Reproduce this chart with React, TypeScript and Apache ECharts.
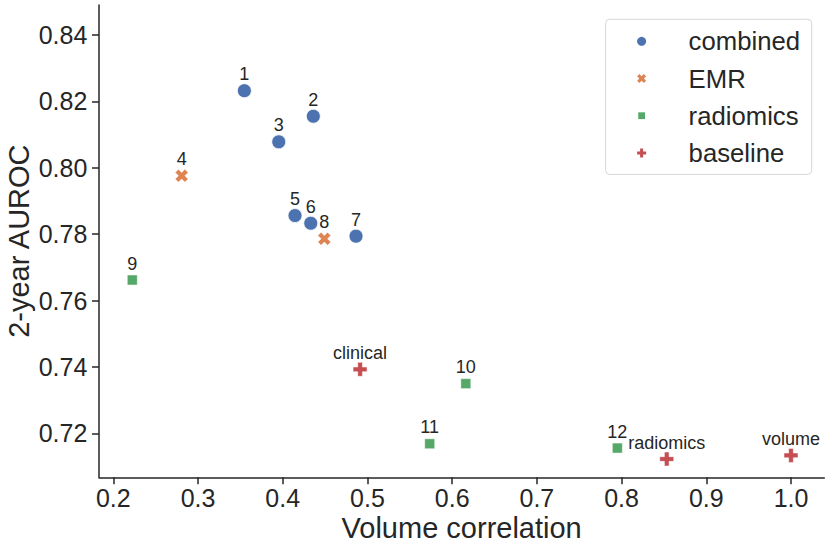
import React, { useEffect, useRef } from "react";
import * as echarts from "echarts";

const combinedX = [0.3547, 0.4361, 0.3953, 0.4145, 0.4331, 0.4865];
const combinedY = [0.8232, 0.8155, 0.8078, 0.7856, 0.7833, 0.7794];
const combinedLabels = ["1", "2", "3", "5", "6", "7"];

const emrX = [0.2807, 0.4491];
const emrY = [0.7976, 0.7786];
const emrLabels = ["4", "8"];

const radiomicsX = [0.2224, 0.6161, 0.5735, 0.795];
const radiomicsY = [0.7662, 0.735, 0.7169, 0.7156];
const radiomicsLabels = ["9", "10", "11", "12"];

const baselineX = [0.4913, 0.8533, 1.0];
const baselineY = [0.7393, 0.7123, 0.7134];
const baselineLabels = ["clinical", "radiomics", "volume"];

const xTicks = [0.2, 0.3, 0.4, 0.5, 0.6, 0.7, 0.8, 0.9, 1.0];
const yTicks = [0.72, 0.74, 0.76, 0.78, 0.8, 0.82, 0.84];

const FONT = "'Liberation Sans', Arial, Helvetica, sans-serif";
const INK = "#262626";

const X_PATH =
  "path://M-1,-2L0,-1L1,-2L2,-1L1,0L2,1L1,2L0,1L-1,2L-2,1L-1,0L-2,-1Z";
const P_PATH =
  "path://M-1,-3L1,-3L1,-1L3,-1L3,1L1,1L1,3L-1,3L-1,1L-3,1L-3,-1L-1,-1Z";
const SQ_LEGEND = "path://M-1,-1M1,1M-0.75,-0.75L0.75,-0.75L0.75,0.75L-0.75,0.75Z";

function makeSeries(
  name: string,
  xs: number[],
  ys: number[],
  labels: string[],
  symbol: string,
  size: number,
  color: string,
  border: number
) {
  return {
    type: "scatter",
    name,
    data: xs.map((x, i) => ({ value: [x, ys[i]], name: labels[i] })),
    symbol,
    symbolSize: size,
    itemStyle: { color, borderColor: "#ffffff", borderWidth: border, opacity: 1 },
    label: {
      show: true,
      position: "inside",
      offset: [0, -16.5],
      formatter: "{b}",
      fontSize: 18,
      color: INK,
      fontFamily: FONT,
    },
    emphasis: { disabled: true },
  };
}

export default function App() {
  const ref = useRef<HTMLDivElement>(null);
  useEffect(() => {
    if (!ref.current) return;
    const chart = echarts.init(ref.current, undefined, { renderer: "svg" });
    chart.setOption({
      animation: false,
      backgroundColor: "#ffffff",
      textStyle: { fontFamily: FONT, color: INK },
      grid: {
        left: 99,
        right: 6.7,
        top: 5,
        bottom: 71.7,
        containLabel: false,
        outerBoundsMode: "none",
      },
      xAxis: {
        type: "value",
        min: 0.1831,
        max: 1.0393,
        name: "Volume correlation",
        nameLocation: "middle",
        nameGap: 39.3,
        nameMoveOverlap: false,
        nameTextStyle: { fontSize: 29, lineHeight: 22, color: INK, fontFamily: FONT },
        splitLine: { show: false },
        axisLine: { show: true, onZero: false, lineStyle: { color: INK, width: 1.5 } },
        axisTick: { show: true, length: 7, lineStyle: { color: INK, width: 1.5 }, customValues: xTicks },
        axisLabel: {
          customValues: xTicks,
          margin: 8.3,
          fontSize: 25,
          lineHeight: 24,
          color: INK,
          fontFamily: FONT,
          formatter: (v: number) => v.toFixed(1),
        },
      },
      yAxis: {
        type: "value",
        min: 0.7068,
        max: 0.849,
        name: "2-year AUROC",
        nameLocation: "middle",
        nameGap: 66,
        nameMoveOverlap: false,
        nameTextStyle: { fontSize: 29, color: INK, fontFamily: FONT },
        splitLine: { show: false },
        axisLine: { show: true, onZero: false, lineStyle: { color: INK, width: 1.5 } },
        axisTick: { show: true, length: 7, lineStyle: { color: INK, width: 1.5 }, customValues: yTicks },
        axisLabel: {
          customValues: yTicks,
          margin: 11.7,
          fontSize: 25,
          color: INK,
          fontFamily: FONT,
          formatter: (v: number) => v.toFixed(2),
        },
      },
      legend: {
        orient: "vertical",
        right: 19.3,
        top: 19.3,
        itemWidth: 9,
        itemHeight: 9,
        itemGap: 11.2,
        padding: [9, 11.7, 8.5, 31.5],
        backgroundColor: "#ffffff",
        borderColor: "#d6d6d6",
        borderWidth: 1,
        borderRadius: 4,
        selectedMode: false,
        itemStyle: { borderWidth: 0 },
        textStyle: { fontSize: 25.7, lineHeight: 25, color: INK, fontFamily: FONT, padding: [0, 0, 0, 37.5] },
        data: [
          { name: "combined", icon: "circle" },
          { name: "EMR", icon: X_PATH },
          { name: "radiomics", icon: SQ_LEGEND },
          { name: "baseline", icon: P_PATH },
        ],
      },
      series: [
        makeSeries("combined", combinedX, combinedY, combinedLabels, "circle", 14, "#4C72B0", 0.8),
        makeSeries("EMR", emrX, emrY, emrLabels, X_PATH, 13, "#DD8452", 0.5),
        makeSeries("radiomics", radiomicsX, radiomicsY, radiomicsLabels, "rect", 10, "#55A868", 0.5),
        makeSeries("baseline", baselineX, baselineY, baselineLabels, P_PATH, 14, "#C44E52", 0.5),
      ],
    });
    return () => chart.dispose();
  }, []);
  return (
    <div
      ref={ref}
      style={{ position: "absolute", left: 0, top: 0, width: 831, height: 549 }}
    />
  );
}
